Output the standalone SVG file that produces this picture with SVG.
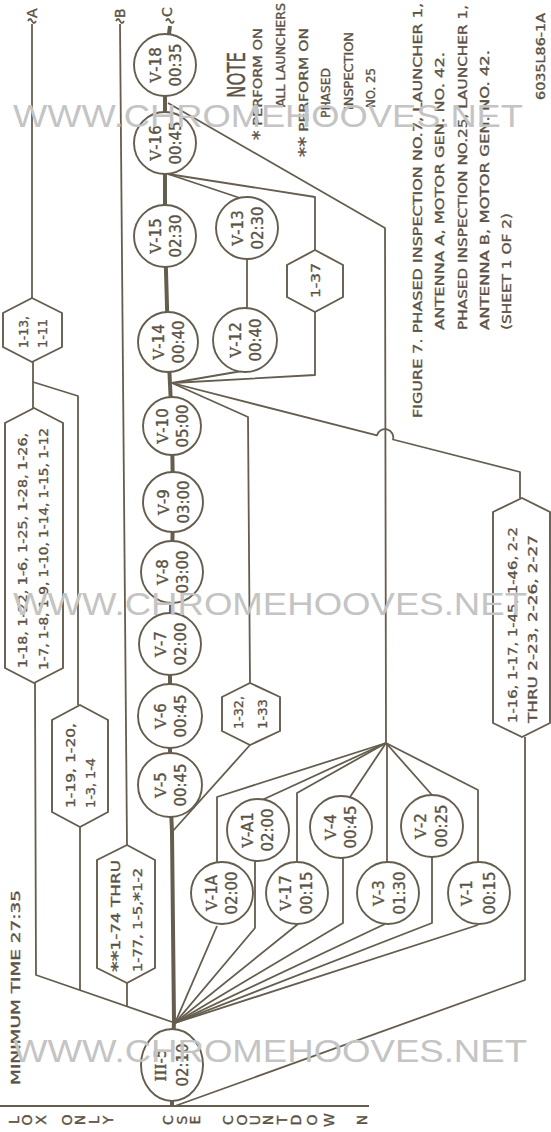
<svg xmlns="http://www.w3.org/2000/svg" width="551" height="1132" viewBox="0 0 551 1132">
<defs>
<style>
.ln{fill:none;stroke:#655d4e;stroke-width:1.8;stroke-linejoin:round}
.tk{fill:none;stroke:#655d4e;stroke-width:4}
.nd{fill:#fff;stroke:#655d4e;stroke-width:1.9}
text{font-family:"DejaVu Sans",sans-serif;fill:#5a5244;stroke:#5a5244;stroke-width:0.35}
.c{font-size:15px}
.h{font-size:12.5px}
.n{font-size:13px}
.ax{font-size:14px}
.rn{font-family:"DejaVu Serif",serif}
.wm{font-family:"Liberation Sans",sans-serif;font-size:31px;fill:#c4c4c4;stroke:none}
</style>
</defs>
<rect width="551" height="1132" fill="#fff"/>

<g id="connectors">
<path class="tk" d="M170,26 L165,65 L165,143 L165,236 L168,342 L172,426 L173,502 L172,572 L170,644 L170,716 L170,785 L172,832 L174,1022 L172,1065 L172,1106"/>
<path class="ln" d="M0,1106 H369"/>
<path class="ln" d="M32,24 V298"/>
<path class="ln" d="M28,21 Q30,17 32,21 Q34,25 36,21"/>
<path class="ln" d="M120,24 L127,845"/>
<path class="ln" d="M116,21 Q118,17 120,21 Q122,25 124,21"/>
<path class="ln" d="M166,21 Q168,17 170,21 Q172,25 174,21"/>
<path class="ln" d="M33,362 V408"/>
<path class="ln" d="M33,382 L78,396 V705"/>
<path class="ln" d="M35,683 L36,975 L175,1023"/>
<path class="ln" d="M80,827 V990"/>
<path class="ln" d="M127,983 V1006"/>
<path class="ln" d="M175,1023 L217,926"/>
<path class="ln" d="M175,1023 L255,928 V860"/>
<path class="ln" d="M175,1023 L298,924"/>
<path class="ln" d="M175,1023 L343,923 V857"/>
<path class="ln" d="M175,1023 L385,924"/>
<path class="ln" d="M175,1023 L432,923 V857"/>
<path class="ln" d="M175,1023 L478,925"/>
<path class="ln" d="M175,1106 L525,980 V737"/>
<path class="ln" d="M217,862 V797 L386,743"/>
<path class="ln" d="M262,800 L386,743"/>
<path class="ln" d="M297,862 V793 L386,743"/>
<path class="ln" d="M350,797 L386,743"/>
<path class="ln" d="M387,862 V743"/>
<path class="ln" d="M432,795 L386,743"/>
<path class="ln" d="M478,862 V790 L386,743"/>
<path class="ln" d="M386,743 L385,228 L168,103"/>
<path class="ln" d="M172,832 L250,745"/>
<path class="ln" d="M172,383 L242,371"/>
<path class="ln" d="M172,383 L315,375 V312"/>
<path class="ln" d="M172,383 L248,417 L250,683"/>
<path class="ln" d="M172,383 L377,435.4 A8,8 0 0 1 393,439.5 L520,472 V498"/>
<path class="ln" d="M247,308 V260"/>
<path class="ln" d="M168,174 L240,198"/>
<path class="ln" d="M168,174 L315,197 V250"/>
</g>

<g id="v18"><circle class="nd" cx="165" cy="65" r="31"/><text class="c" text-anchor="middle" transform="translate(161,65) rotate(-90)"><tspan class="rn">V</tspan>-18</text><text class="c" text-anchor="middle" transform="translate(181,65) rotate(-90)">00:35</text></g>
<g id="v16"><circle class="nd" cx="165" cy="143" r="31"/><text class="c" text-anchor="middle" transform="translate(161,143) rotate(-90)"><tspan class="rn">V</tspan>-16</text><text class="c" text-anchor="middle" transform="translate(181,143) rotate(-90)">00:45</text></g>
<g id="v15"><circle class="nd" cx="165" cy="236" r="31"/><text class="c" text-anchor="middle" transform="translate(161,236) rotate(-90)"><tspan class="rn">V</tspan>-15</text><text class="c" text-anchor="middle" transform="translate(181,236) rotate(-90)">02:30</text></g>
<g id="v14"><circle class="nd" cx="168" cy="342" r="30"/><text class="c" text-anchor="middle" transform="translate(164,342) rotate(-90)"><tspan class="rn">V</tspan>-14</text><text class="c" text-anchor="middle" transform="translate(184,342) rotate(-90)">00:40</text></g>
<g id="v10"><circle class="nd" cx="172" cy="426" r="29"/><text class="c" text-anchor="middle" transform="translate(168,426) rotate(-90)"><tspan class="rn">V</tspan>-10</text><text class="c" text-anchor="middle" transform="translate(188,426) rotate(-90)">05:00</text></g>
<g id="v9"><circle class="nd" cx="173" cy="502" r="30"/><text class="c" text-anchor="middle" transform="translate(169,502) rotate(-90)"><tspan class="rn">V</tspan>-9</text><text class="c" text-anchor="middle" transform="translate(189,502) rotate(-90)">03:00</text></g>
<g id="v8"><circle class="nd" cx="172" cy="572" r="31"/><text class="c" text-anchor="middle" transform="translate(168,572) rotate(-90)"><tspan class="rn">V</tspan>-8</text><text class="c" text-anchor="middle" transform="translate(188,572) rotate(-90)">03:00</text></g>
<g id="v7"><circle class="nd" cx="170" cy="644" r="31"/><text class="c" text-anchor="middle" transform="translate(166,644) rotate(-90)"><tspan class="rn">V</tspan>-7</text><text class="c" text-anchor="middle" transform="translate(186,644) rotate(-90)">02:00</text></g>
<g id="v6"><circle class="nd" cx="170" cy="716" r="32"/><text class="c" text-anchor="middle" transform="translate(166,716) rotate(-90)"><tspan class="rn">V</tspan>-6</text><text class="c" text-anchor="middle" transform="translate(186,716) rotate(-90)">00:45</text></g>
<g id="v5"><circle class="nd" cx="170" cy="785" r="32"/><text class="c" text-anchor="middle" transform="translate(166,785) rotate(-90)"><tspan class="rn">V</tspan>-5</text><text class="c" text-anchor="middle" transform="translate(186,785) rotate(-90)">00:45</text></g>
<g id="v13"><circle class="nd" cx="247" cy="228" r="31"/><text class="c" text-anchor="middle" transform="translate(243,228) rotate(-90)"><tspan class="rn">V</tspan>-13</text><text class="c" text-anchor="middle" transform="translate(263,228) rotate(-90)">02:30</text></g>
<g id="v12"><circle class="nd" cx="245" cy="340" r="32"/><text class="c" text-anchor="middle" transform="translate(241,340) rotate(-90)"><tspan class="rn">V</tspan>-12</text><text class="c" text-anchor="middle" transform="translate(261,340) rotate(-90)">00:40</text></g>
<g id="v1a"><circle class="nd" cx="222" cy="893" r="31"/><text class="c" text-anchor="middle" transform="translate(217,893) rotate(-90)"><tspan class="rn">V</tspan>-1A</text><text class="c" text-anchor="middle" transform="translate(237,893) rotate(-90)">02:00</text></g>
<g id="va1"><circle class="nd" cx="258" cy="830" r="31"/><text class="c" text-anchor="middle" transform="translate(253,830) rotate(-90)"><tspan class="rn">V</tspan>-A1</text><text class="c" text-anchor="middle" transform="translate(273,830) rotate(-90)">02:00</text></g>
<g id="v17"><circle class="nd" cx="297" cy="893" r="31"/><text class="c" text-anchor="middle" transform="translate(291,893) rotate(-90)"><tspan class="rn">V</tspan>-17</text><text class="c" text-anchor="middle" transform="translate(312,893) rotate(-90)">00:15</text></g>
<g id="v4"><circle class="nd" cx="341" cy="827" r="31"/><text class="c" text-anchor="middle" transform="translate(336,827) rotate(-90)"><tspan class="rn">V</tspan>-4</text><text class="c" text-anchor="middle" transform="translate(356,827) rotate(-90)">00:45</text></g>
<g id="v3"><circle class="nd" cx="388" cy="893" r="31"/><text class="c" text-anchor="middle" transform="translate(384,893) rotate(-90)"><tspan class="rn">V</tspan>-3</text><text class="c" text-anchor="middle" transform="translate(405,893) rotate(-90)">01:30</text></g>
<g id="v2"><circle class="nd" cx="432" cy="826" r="31"/><text class="c" text-anchor="middle" transform="translate(426,826) rotate(-90)"><tspan class="rn">V</tspan>-2</text><text class="c" text-anchor="middle" transform="translate(447,826) rotate(-90)">00:25</text></g>
<g id="v1"><circle class="nd" cx="479" cy="893" r="31"/><text class="c" text-anchor="middle" transform="translate(472,893) rotate(-90)"><tspan class="rn">V</tspan>-1</text><text class="c" text-anchor="middle" transform="translate(495,893) rotate(-90)">00:15</text></g>
<g id="iii5"><ellipse class="nd" cx="172" cy="1065" rx="31" ry="36"/><text class="c" text-anchor="middle" transform="translate(166,1065) rotate(-90)"><tspan class="rn">III</tspan>-5</text><text class="c" text-anchor="middle" transform="translate(188,1065) rotate(-90)">02:10</text></g>

<g id="h113"><path class="nd" d="M32,298 L62,313 V347 L32,362 L3,347 V313 Z"/><text class="h" transform="translate(28,348) rotate(-90)" textLength="32" lengthAdjust="spacingAndGlyphs">1-13,</text><text class="h" transform="translate(47,348) rotate(-90)" textLength="29" lengthAdjust="spacingAndGlyphs">1-11</text></g>
<g id="h118"><path class="nd" d="M34,408 L63,423 V668 L34,683 L5,668 V423 Z"/><text class="h" transform="translate(27,668) rotate(-90)" textLength="235" lengthAdjust="spacingAndGlyphs">1-18, 1-22, 1-6, 1-25, 1-28, 1-26,</text><text class="h" transform="translate(48,670) rotate(-90)" textLength="242" lengthAdjust="spacingAndGlyphs">1-7, 1-8, 1-9, 1-10, 1-14, 1-15, 1-12</text></g>
<g id="h119"><path class="nd" d="M80,705 L108,720 V812 L80,827 L52,812 V720 Z"/><text class="h" transform="translate(75,808) rotate(-90)" textLength="85" lengthAdjust="spacingAndGlyphs">1-19, 1-20,</text><text class="h" transform="translate(95,808) rotate(-90)" textLength="50" lengthAdjust="spacingAndGlyphs">1-3, 1-4</text></g>
<g id="h174"><path class="nd" d="M127,845 L155,860 V968 L127,983 L97,968 V860 Z"/><text class="h" transform="translate(120,972) rotate(-90)" textLength="112" lengthAdjust="spacingAndGlyphs"><tspan font-size="16" dy="3">**</tspan><tspan dy="-3">1-74 THRU</tspan></text><text class="h" transform="translate(142,972) rotate(-90)" textLength="104" lengthAdjust="spacingAndGlyphs">1-77, 1-5,<tspan font-size="16" dy="3">*</tspan><tspan dy="-3">1-2</tspan></text></g>
<g id="h132"><path class="nd" d="M250,683 L280,697 V731 L250,745 L222,731 V697 Z"/><text class="h" transform="translate(243,729) rotate(-90)" textLength="33" lengthAdjust="spacingAndGlyphs">1-32,</text><text class="h" transform="translate(267,729) rotate(-90)" textLength="30" lengthAdjust="spacingAndGlyphs">1-33</text></g>
<g id="h137"><path class="nd" d="M315,250 L343,265 V297 L315,312 L287,297 V265 Z"/><text class="h" transform="translate(320,298) rotate(-90)" textLength="35" lengthAdjust="spacingAndGlyphs">1-37</text></g>
<g id="h116"><path class="nd" d="M522,498 L550,512 V723 L522,737 L493,723 V512 Z"/><text class="h" transform="translate(517,723) rotate(-90)" textLength="196" lengthAdjust="spacingAndGlyphs">1-16, 1-17, 1-45, 1-46, 2-2</text><text class="h" transform="translate(537,723) rotate(-90)" textLength="188" lengthAdjust="spacingAndGlyphs">THRU 2-23, 2-26, 2-27</text></g>

<g id="labels">
<text class="ax" transform="translate(37,18) rotate(-90)">A</text>
<text class="ax" transform="translate(125,18) rotate(-90)">B</text>
<text class="ax" transform="translate(172,17) rotate(-90)">C</text>
<text class="n" transform="translate(20,1085) rotate(-90)" textLength="195" lengthAdjust="spacingAndGlyphs">MINIMUM TIME 27:35</text>
<text style="font-size:24px" transform="translate(245,98) rotate(-90)" textLength="46" lengthAdjust="spacingAndGlyphs">NOTE</text>
<text class="n" transform="translate(262,140) rotate(-90)" textLength="112" lengthAdjust="spacingAndGlyphs"><tspan font-size="17" dy="3">*</tspan><tspan dy="-3"> PERFORM ON</tspan></text>
<text class="n" transform="translate(285,107) rotate(-90)" textLength="104" lengthAdjust="spacingAndGlyphs">ALL LAUNCHERS</text>
<text class="n" transform="translate(308,157) rotate(-90)" textLength="129" lengthAdjust="spacingAndGlyphs"><tspan font-size="17" dy="3">**</tspan><tspan dy="-3"> PERFORM ON</tspan></text>
<text class="n" transform="translate(330,118) rotate(-90)" textLength="50" lengthAdjust="spacingAndGlyphs">PHASED</text>
<text class="n" transform="translate(353,110) rotate(-90)" textLength="78" lengthAdjust="spacingAndGlyphs">INSPECTION</text>
<text class="n" transform="translate(375,108) rotate(-90)" textLength="40" lengthAdjust="spacingAndGlyphs">NO. 25</text>
<text class="n" transform="translate(422,418) rotate(-90)" textLength="415" lengthAdjust="spacingAndGlyphs">FIGURE 7. PHASED INSPECTION NO.7, LAUNCHER 1,</text>
<text class="n" transform="translate(444,330) rotate(-90)" textLength="278" lengthAdjust="spacingAndGlyphs">ANTENNA A, MOTOR GEN. NO. 42.</text>
<text class="n" transform="translate(467,330) rotate(-90)" textLength="325" lengthAdjust="spacingAndGlyphs">PHASED INSPECTION NO.25, LAUNCHER 1,</text>
<text class="n" transform="translate(489,330) rotate(-90)" textLength="280" lengthAdjust="spacingAndGlyphs">ANTENNA B, MOTOR GEN. NO. 42.</text>
<text class="n" transform="translate(511,330) rotate(-90)" textLength="117" lengthAdjust="spacingAndGlyphs">(SHEET 1 OF 2)</text>
<text class="n" transform="translate(545,100) rotate(-90)" textLength="87" lengthAdjust="spacingAndGlyphs">6035L86-1A</text>
</g>

<g id="axis">
<text class="ax" text-anchor="middle" transform="translate(19,1120) rotate(-90)">L</text>
<text class="ax" text-anchor="middle" transform="translate(32,1120) rotate(-90)">O</text>
<text class="ax" text-anchor="middle" transform="translate(46,1120) rotate(-90)">X</text>
<text class="ax" text-anchor="middle" transform="translate(72,1120) rotate(-90)">O</text>
<text class="ax" text-anchor="middle" transform="translate(85,1120) rotate(-90)">N</text>
<text class="ax" text-anchor="middle" transform="translate(99,1120) rotate(-90)">L</text>
<text class="ax" text-anchor="middle" transform="translate(113,1120) rotate(-90)">Y</text>
<text class="ax" text-anchor="middle" transform="translate(173,1120) rotate(-90)">C</text>
<text class="ax" text-anchor="middle" transform="translate(187,1120) rotate(-90)">S</text>
<text class="ax" text-anchor="middle" transform="translate(200,1120) rotate(-90)">E</text>
<text class="ax" text-anchor="middle" transform="translate(233,1120) rotate(-90)">C</text>
<text class="ax" text-anchor="middle" transform="translate(247,1120) rotate(-90)">O</text>
<text class="ax" text-anchor="middle" transform="translate(260,1120) rotate(-90)">U</text>
<text class="ax" text-anchor="middle" transform="translate(273,1120) rotate(-90)">N</text>
<text class="ax" text-anchor="middle" transform="translate(287,1120) rotate(-90)">T</text>
<text class="ax" text-anchor="middle" transform="translate(301,1120) rotate(-90)">D</text>
<text class="ax" text-anchor="middle" transform="translate(317,1120) rotate(-90)">O</text>
<text class="ax" text-anchor="middle" transform="translate(334,1120) rotate(-90)">W</text>
<text class="ax" text-anchor="middle" transform="translate(367,1120) rotate(-90)">N</text>
</g>

<g id="watermark">
<text class="wm" x="13" y="127" textLength="510" lengthAdjust="spacingAndGlyphs">WWW.CHROMEHOOVES.NET</text>
<text class="wm" x="13" y="615" textLength="514" lengthAdjust="spacingAndGlyphs">WWW.CHROMEHOOVES.NET</text>
<text class="wm" x="13" y="1062" textLength="514" lengthAdjust="spacingAndGlyphs">WWW.CHROMEHOOVES.NET</text>
</g>
</svg>
